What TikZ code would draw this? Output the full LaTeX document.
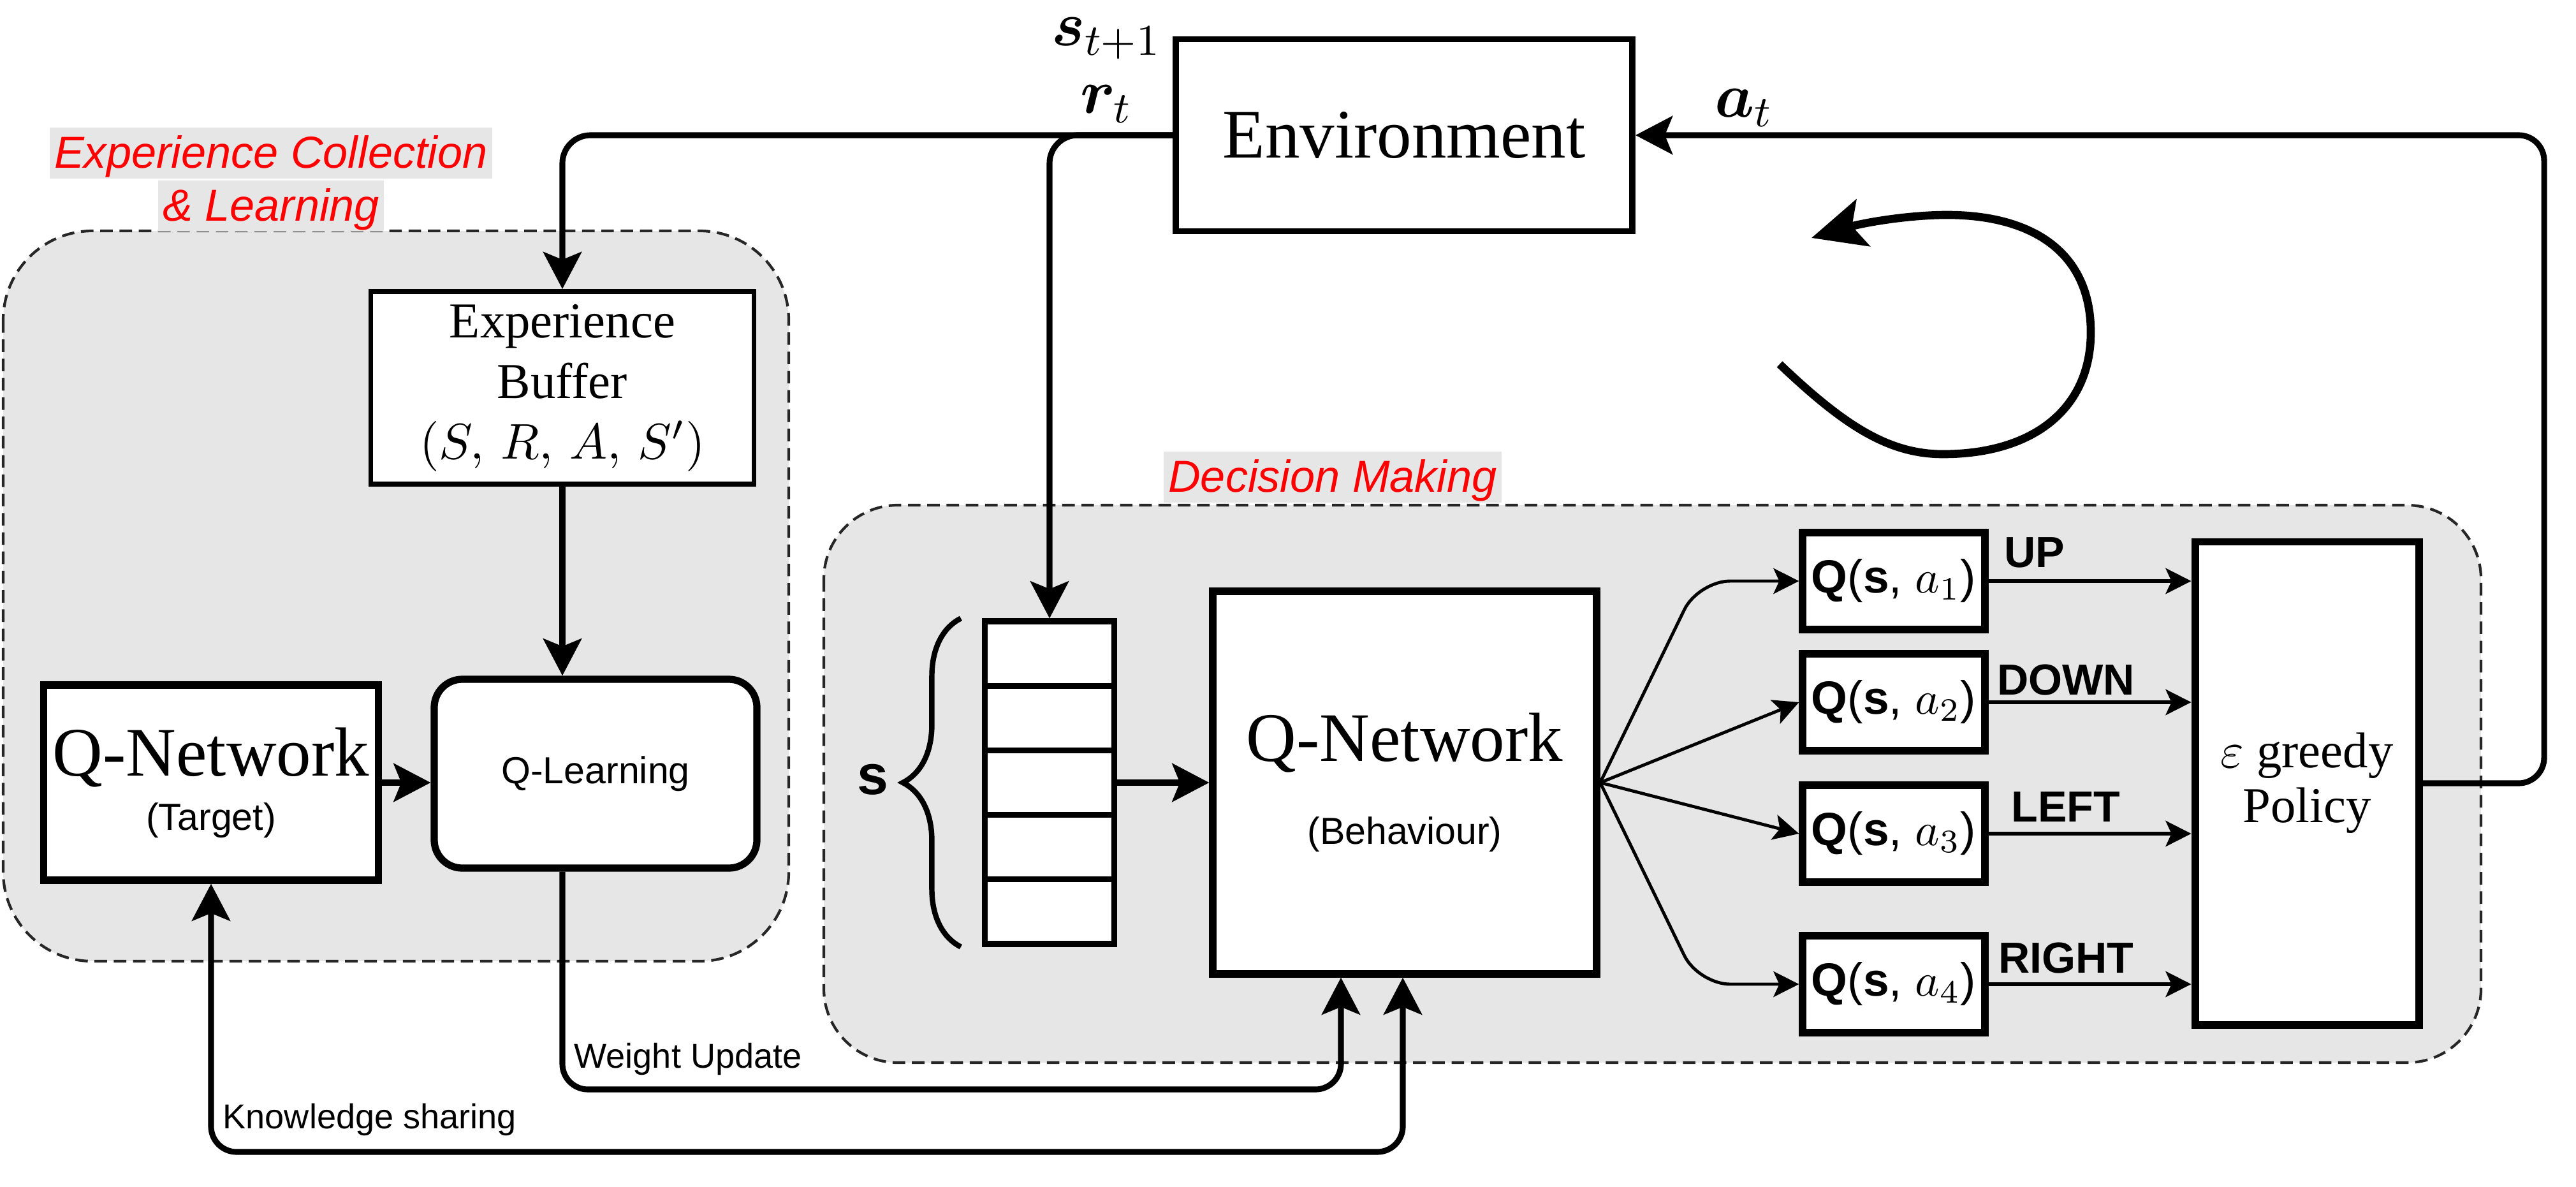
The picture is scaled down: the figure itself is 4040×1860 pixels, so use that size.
\documentclass[tikz,border=0pt]{standalone}
\usepackage{fix-cm}
\usepackage{fontspec}
\usepackage{amsmath,bm}
\setmainfont{Liberation Serif}
\setsansfont{Liberation Sans}
\usetikzlibrary{arrows.meta,positioning,calc,decorations.pathreplacing}
\definecolor{panelgray}{HTML}{E6E6E6}

\newcommand{\bigserif}{\fontsize{15.5}{18}\selectfont}
\newcommand{\midserif}{\fontsize{11.2}{13.5}\selectfont}
\newcommand{\tagfont}{\sffamily\itshape\fontsize{10}{12}\selectfont}
\newcommand{\smallsans}{\sffamily\fontsize{8.4}{10}\selectfont}
\newcommand{\tinysans}{\sffamily\fontsize{7.7}{9}\selectfont}
\newcommand{\actfont}{\sffamily\bfseries\fontsize{9.7}{11}\selectfont}
\newcommand{\qfont}{\sffamily\fontsize{10.4}{12}\selectfont}
\newcommand{\mathlbl}{\fontsize{14}{16}\selectfont}

\begin{document}
\begin{tikzpicture}[x=0.05mm, y=-0.05mm,
  >={Stealth[length=0.29cm,width=0.3cm,inset=0.06cm]},
  box/.style={draw, line width=1.6pt, fill=white, inner sep=0pt, align=center},
  cell/.style={box, line width=1.3pt, minimum width=1.015cm, minimum height=0.506cm},
  qbox/.style={box, minimum width=1.43cm, minimum height=0.76cm, font=\qfont},
  panel/.style={draw=black!85, fill=panelgray, line width=0.6pt, dash pattern=on 2.8pt off 1.5pt},
  tag/.style={fill=panelgray, text=red, font=\tagfont, inner xsep=1pt, inner ysep=0pt, text height=0.32cm, text depth=0.08cm},
  flow/.style={line width=1.3pt, ->},
  thinflow/.style={line width=0.7pt, -{Stealth[length=0.2cm,width=0.2cm,inset=0.045cm]}},
  act/.style={font=\actfont, inner sep=0pt},
  note/.style={font=\tinysans, inner sep=2pt}]
\useasboundingbox (0,0) rectangle (4040,1860);

% containers
\draw[panel, rounded corners=0.7cm] (5,362) rectangle (1237,1507);
\draw[panel, rounded corners=0.58cm] (1292,792) rectangle (3891,1666);
\node[tag] (ecl1) at (425,240) {Experience Collection};
\node[tag, below=0pt of ecl1] (ecl2) {\& Learning};
\node[tag, anchor=south] (dmtag) at (2090,789) {Decision Making};

% nodes
\node[box, line width=1.4pt, minimum width=3.58cm, minimum height=1.505cm, font=\bigserif] (env) at (2202,212) {Environment};
\node[box, line width=1.1pt, minimum width=3.005cm, minimum height=1.51cm, font=\midserif] (buf) at (882,608) {Experience\\Buffer\\$(S,\, R,\, A,\, S')$};
\node[box, minimum width=2.625cm, minimum height=1.53cm, font=\bigserif] (qt) at (331,1227) {Q-Network\\[-5.9pt]{\smallsans (Target)}};
\node[box, rounded corners=0.22cm, minimum width=2.53cm, minimum height=1.48cm, font=\smallsans] (ql) at (934,1213) {Q-Learning};
\foreach \i in {1,...,5}
  \node[cell] (c\i) at (1646, {974+101.2*(\i-0.5)}) {};
\node[font=\sffamily\bfseries\fontsize{12.5}{14}\selectfont] (slbl) at (1369,1222) {s};
\node[box, minimum width=3.01cm, minimum height=3cm, font=\bigserif] (qb) at (2203,1227) {Q-Network\\[0.5pt]{\smallsans (Behaviour)}};
\node[qbox] (qa1) at (2970,911) {\textbf{Q}(\textbf{s}, $a_1$)};
\node[qbox] (qa2) at (2970,1101) {\textbf{Q}(\textbf{s}, $a_2$)};
\node[qbox] (qa3) at (2970,1307) {\textbf{Q}(\textbf{s}, $a_3$)};
\node[qbox] (qa4) at (2970,1543) {\textbf{Q}(\textbf{s}, $a_4$)};
\node[box, line width=1.7pt, minimum width=1.755cm, minimum height=3.785cm, font=\midserif] (pol) at (3618,1228) {$\varepsilon$ greedy\\[-1.3pt]Policy};
\node[act] (up) at (3191,866) {UP};
\node[act] (down) at (3240,1066) {DOWN};
\node[act] (left) at (3240,1265) {LEFT};
\node[act] (right) at (3240,1502) {RIGHT};
\node[font=\mathlbl] (lbls) at (1735,60) {$\bm{s}_{t+1}$};
\node[font=\mathlbl] (lblr) at (1735,163) {$\bm{r}_t$};
\node[font=\mathlbl] (lbla) at (2735,169) {$\bm{a}_t$};
\coordinate (ret) at (3990,212);
\coordinate (wu) at (2103,1708);
\coordinate (ks) at (2200,1806);

% edges
\draw[flow, rounded corners=0.22cm] (env.west) -| (buf.north);
\draw[flow, rounded corners=0.22cm] (env.west) -| (c1.north);
\draw[flow, rounded corners=0.2cm] (pol.east) -| (ret) -- (env.east);
\draw[flow] (c3.east) -- (c3.east -| qb.west);
\draw[flow] (buf.south) -- (buf.south |- ql.north);
\draw[flow] (qt.east) -- (qt.east -| ql.west);
\draw[flow, rounded corners=0.2cm] (buf.south |- ql.south) |- node[pos=0.43, right, note] {Weight Update} (wu) -- (wu |- qb.south);
\draw[flow, <->, rounded corners=0.2cm] (qt.south) |- node[pos=0.44, right, note] {Knowledge sharing} (ks) -- (ks |- qb.south);
\draw[line width=1.2pt, decorate, decoration={brace, amplitude=0.455cm}] ([xshift=-0.165cm]c5.south west) -- ([xshift=-0.165cm]c1.north west);

\draw[thinflow, rounded corners=0.25cm] (qb.east) -- ([xshift=-0.79cm]qa1.west) -- (qa1.west);
\draw[thinflow] (qb.east) -- (qa2.west);
\draw[thinflow] (qb.east) -- (qa3.west);
\draw[thinflow, rounded corners=0.25cm] (qb.east) -- ([xshift=-0.79cm]qa4.west) -- (qa4.west);
\foreach \i in {1,...,4}
  \draw[thinflow, line width=0.9pt] (qa\i.east) -- (qa\i.east -| pol.west);

% loop
\draw[line width=1.8pt, -{Stealth[length=0.42cm,width=0.38cm,inset=0.09cm]}] (2791,571) .. controls (2890,665) and (2960,712) .. (3047,712) .. controls (3190,712) and (3279,640) .. (3279,521) .. controls (3279,390) and (3180,337) .. (3054,337) .. controls (2990,337) and (2920,350) .. (2841,373);
\end{tikzpicture}
\end{document}
